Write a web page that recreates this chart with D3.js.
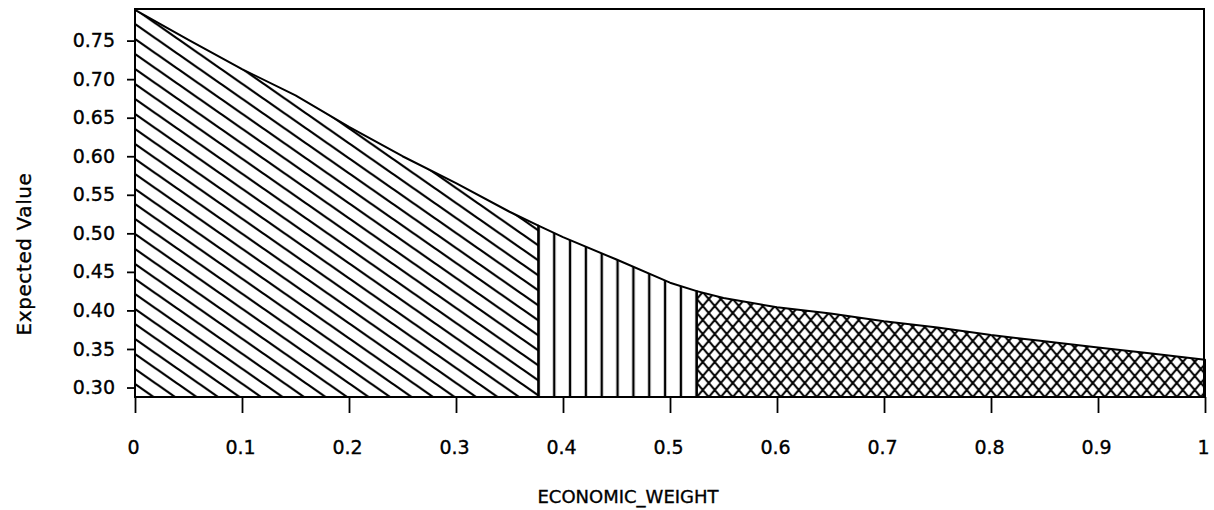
<!DOCTYPE html>
<html>
<head>
<meta charset="utf-8">
<script src="https://cdn.jsdelivr.net/npm/d3@7"></script>
<style>
  body { margin: 0; background: #fff; }
  text { font-family: "DejaVu Sans", sans-serif; fill: #000; stroke: #000; stroke-width: 0.35px; }
</style>
</head>
<body>
<div id="my_dataviz"></div>
<script>

// values
var economicWeight = [0, 0.05, 0.1, 0.15, 0.2, 0.25, 0.3, 0.35, 0.377, 0.4, 0.45, 0.5, 0.525,
                      0.55, 0.6, 0.65, 0.7, 0.75, 0.8, 0.85, 0.9, 0.95, 1];
var expectedValue = [0.790, 0.751, 0.713, 0.679, 0.638, 0.600, 0.565, 0.528, 0.510, 0.495, 0.466, 0.436, 0.425,
                     0.416, 0.404, 0.396, 0.386, 0.378, 0.368, 0.360, 0.352, 0.344, 0.336];
var breaks = [0, 0.377, 0.525, 1];
var hatchNames = ["diag", "vert", "cross"];
var xTicks = [0, 0.1, 0.2, 0.3, 0.4, 0.5, 0.6, 0.7, 0.8, 0.9, 1];
var yTicks = [0.30, 0.35, 0.40, 0.45, 0.50, 0.55, 0.60, 0.65, 0.70, 0.75];

var W = 1214, H = 510;
var margin = {top: 9, right: 1205, bottom: 397, left: 135};

var svg = d3.select("#my_dataviz")
  .append("svg")
    .attr("width", W)
    .attr("height", H);

var data = economicWeight.map(function(d, i) { return {x: d, y: expectedValue[i]}; });

var x = d3.scaleLinear()
  .domain([0, 1])
  .range([margin.left, margin.right]);

var y = d3.scaleLinear()
  .domain([0.2877, 0.791])
  .range([margin.bottom, margin.top]);

// hatch patterns
var defs = svg.append("defs");

var dw = 21.5, dh = 15;
defs.append("pattern")
    .attr("id", "diag")
    .attr("patternUnits", "userSpaceOnUse")
    .attr("width", dw).attr("height", dh)
    .attr("x", margin.left).attr("y", margin.top)
  .append("path")
    .attr("d", "M" + (-dw) + "," + (-dh) + "L" + (2 * dw) + "," + (2 * dh) +
               "M0," + (-dh) + "L" + (2 * dw) + "," + dh +
               "M" + (-dw) + ",0L" + dw + "," + (2 * dh))
    .attr("stroke", "#000")
    .attr("stroke-width", 2.2);

var vw = (x(0.525) - x(0.377)) / 10;
defs.append("pattern")
    .attr("id", "vert")
    .attr("patternUnits", "userSpaceOnUse")
    .attr("width", vw).attr("height", 20)
    .attr("x", x(0.377)).attr("y", 0)
  .append("path")
    .attr("d", "M0,0V20M" + vw + ",0V20")
    .attr("stroke", "#000")
    .attr("stroke-width", 2.4);

var cw = 12, ch = 14;
defs.append("pattern")
    .attr("id", "cross")
    .attr("patternUnits", "userSpaceOnUse")
    .attr("width", cw).attr("height", ch)
    .attr("x", x(0.525)).attr("y", margin.bottom)
  .append("path")
    .attr("d", "M" + (-cw) + "," + (-ch) + "L" + (2 * cw) + "," + (2 * ch) +
               "M" + (2 * cw) + "," + (-ch) + "L" + (-cw) + "," + (2 * ch))
    .attr("stroke", "#000")
    .attr("stroke-width", 2.1);

var area = d3.area()
  .x(function(d) { return x(d.x); })
  .y0(y(y.domain()[0]))
  .y1(function(d) { return y(d.y); });

// one filled area per region
for (var i = 0; i < 3; i++) {
  var seg = data.filter(function(d) { return d.x >= breaks[i] - 1e-9 && d.x <= breaks[i + 1] + 1e-9; });
  svg.append("path")
    .datum(seg)
    .attr("d", area)
    .attr("fill", "url(#" + hatchNames[i] + ")")
    .attr("stroke", "#000")
    .attr("stroke-width", 2)
    .attr("stroke-linejoin", "round");
}

// frame
svg.append("rect")
  .attr("x", margin.left).attr("y", margin.top)
  .attr("width", margin.right - margin.left - 1).attr("height", margin.bottom - margin.top)
  .attr("fill", "none")
  .attr("stroke", "#000")
  .attr("stroke-width", 2);

// X axis
var xAxis = svg.append("g")
  .attr("transform", "translate(0," + margin.bottom + ")")
  .call(d3.axisBottom(x).tickValues(xTicks).tickSize(16).tickPadding(28)
    .tickFormat(function(d) { return d === 0 || d === 1 ? d3.format("d")(d) : d3.format(".1f")(d); }));
xAxis.select(".domain").remove();
xAxis.selectAll("line").attr("stroke", "#000").attr("stroke-width", 1.8);
xAxis.selectAll("text")
  .attr("font-family", "DejaVu Sans")
  .attr("font-size", 19)
  .attr("dx", -2);

// Y axis
var yAxis = svg.append("g")
  .attr("transform", "translate(" + margin.left + ",0)")
  .call(d3.axisLeft(y).tickValues(yTicks).tickSize(8).tickPadding(12).tickFormat(d3.format(".2f")));
yAxis.select(".domain").remove();
yAxis.selectAll("line").attr("stroke", "#000").attr("stroke-width", 1.8);
yAxis.selectAll("text")
  .attr("font-family", "DejaVu Sans")
  .attr("font-size", 19);

// axis titles
svg.append("text")
  .attr("x", 628).attr("y", 503)
  .attr("text-anchor", "middle")
  .attr("font-size", 18)
  .text("ECONOMIC_WEIGHT");

svg.append("text")
  .attr("transform", "translate(31,254) rotate(-90)")
  .attr("text-anchor", "middle")
  .attr("font-size", 20)
  .attr("letter-spacing", 0.6)
  .text("Expected Value");

</script>
</body>
</html>
